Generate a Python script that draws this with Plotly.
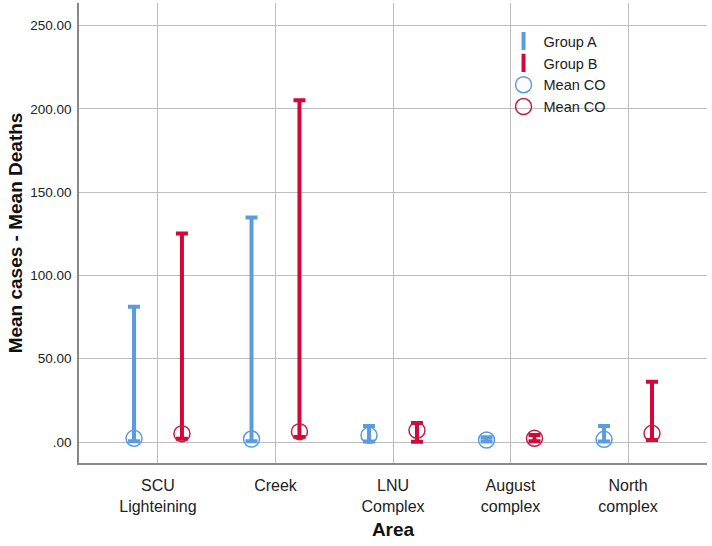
import plotly.graph_objects as go

categories = ["SCU<br>Lighteining", "Creek", "LNU<br>Complex", "August<br>complex", "North<br>complex"]

# Group A (blue): lower, mean, upper
a_low = [0.5, 0.5, 0.3, 0.3, 0.3]
a_mean = [2.2, 1.8, 4.0, 1.2, 1.6]
a_high = [81.2, 134.8, 9.6, 2.8, 9.6]

# Group B (red): lower, mean, upper
b_low = [2.0, 3.0, 0.2, 0.5, 1.2]
b_mean = [5.0, 6.2, 7.0, 2.2, 5.2]
b_high = [125.2, 205.2, 11.4, 4.2, 36.2]

y_ticks = [0, 50, 100, 150, 200, 250]
y_ticktext = [".00", "50.00", "100.00", "150.00", "200.00", "250.00"]

BLUE = "#5A9BE2"
RED = "#D2073A"
RED_CIRCLE = "#C21E45"
OFFSET = 0.204

idx = list(range(len(categories)))
xa = [i - OFFSET for i in idx]
xb = [i + OFFSET for i in idx]

fig = go.Figure()

def err_trace(x, low, mean, high, color):
    return go.Scatter(
        x=x, y=mean, mode="markers", showlegend=False,
        marker=dict(size=1, color="rgba(0,0,0,0)"),
        error_y=dict(type="data", symmetric=False,
                     array=[h - m for h, m in zip(high, mean)],
                     arrayminus=[m - l for m, l in zip(mean, low)],
                     color=color, thickness=4, width=6),
        hoverinfo="skip",
    )

def legend_trace(color, name):
    return go.Scatter(
        x=[None], y=[None], mode="markers", name=name,
        marker=dict(symbol="line-ns", size=13, line=dict(width=4, color=color), color=color),
    )

fig.add_trace(err_trace(xa, a_low, a_mean, a_high, BLUE))
fig.add_trace(err_trace(xb, b_low, b_mean, b_high, RED))
fig.add_trace(legend_trace(BLUE, "Group A"))
fig.add_trace(legend_trace(RED, "Group B"))

fig.add_trace(go.Scatter(
    x=xa, y=a_mean, mode="markers", name="Mean CO",
    marker=dict(symbol="circle-open", size=16, line=dict(width=1.5, color=BLUE), color=BLUE),
))
fig.add_trace(go.Scatter(
    x=xb, y=b_mean, mode="markers", name="Mean CO",
    marker=dict(symbol="circle-open", size=16, line=dict(width=1.5, color=RED_CIRCLE), color=RED_CIRCLE),
))

FONT = "Liberation Sans, Arial, sans-serif"

fig.update_layout(
    width=712, height=546,
    margin=dict(l=79, r=5, t=3, b=83),
    paper_bgcolor="white", plot_bgcolor="white",
    font=dict(family=FONT, size=14, color="#222"),
    showlegend=True,
    legend=dict(x=0.676, y=0.952, xanchor="left", yanchor="top",
                bgcolor="rgba(255,255,255,0)", borderwidth=0,
                font=dict(size=14.5, color="#222"),
                tracegroupgap=0),
    xaxis=dict(
        range=[-0.672, 4.672], automargin=False,
        tickvals=idx, ticktext=categories,
        showgrid=True, gridcolor="#BDBDBD", gridwidth=1,
        zeroline=False, showline=True, linecolor="#888888", linewidth=1.5,
        ticks="outside", ticklen=7, tickcolor="rgba(0,0,0,0)",
        tickfont=dict(size=16, color="#222"),
        title=dict(text="<b>Area</b>", font=dict(size=19, color="#111"), standoff=9),
    ),
    yaxis=dict(
        range=[-12.6, 263.5], automargin=False,
        tickvals=y_ticks, ticktext=y_ticktext,
        showgrid=True, gridcolor="#BDBDBD", gridwidth=1,
        zeroline=False, showline=True, linecolor="#888888", linewidth=1.5,
        ticks="outside", ticklen=3, tickcolor="rgba(0,0,0,0)",
        tickfont=dict(size=13.5, color="#222"),
        title=dict(text="<b>Mean cases - Mean Deaths</b>", font=dict(size=19, color="#111"), standoff=3),
    ),
)

fig.write_html("out.html", config={"displayModeBar": False},
               post_script="document.body.style.margin='0';document.body.style.padding='0';")
